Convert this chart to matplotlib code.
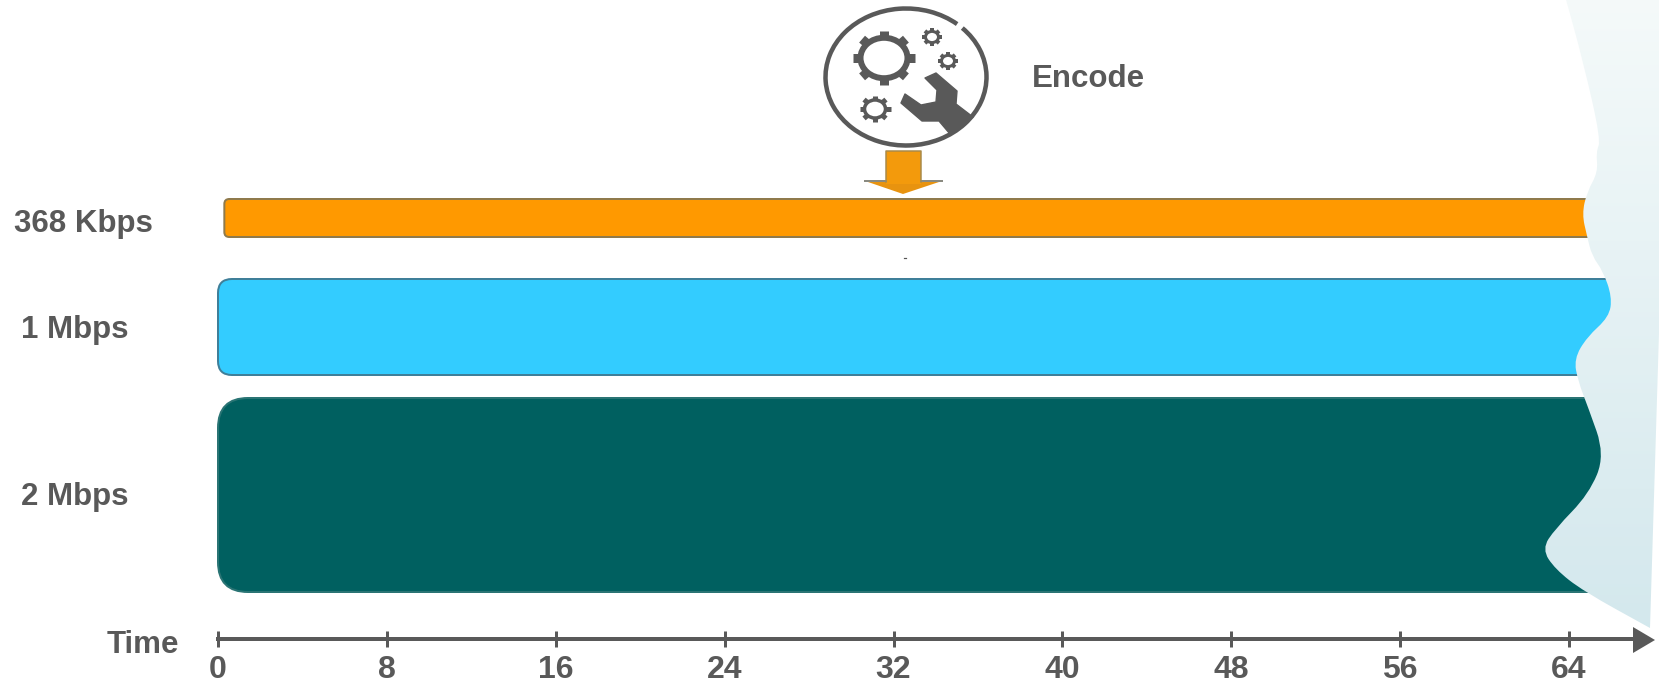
##
## === DEPENDENCIES
##

import matplotlib

matplotlib.use("Agg")
import matplotlib.pyplot as plt
import numpy
from matplotlib.patches import Arc, Ellipse, FancyBboxPatch, PathPatch, Polygon
from matplotlib.path import Path

##
## === DATA
##

BITRATE_LABELS = ["368 Kbps", "1 Mbps", "2 Mbps"]
BAR_COLORS = ["#FF9900", "#33CCFF", "#006060"]
BAR_EDGES = ["#8F7A4C", "#3F7F99", "#2A7474"]
BAR_START = [0.3, 0.0, 0.0]
BAR_END = [66.5, 66.5, 66.5]
BAR_TOP = [199, 279, 398]
BAR_BOTTOM = [237, 375, 592]
BAR_ROUNDING = [5, 14, 30]
LABEL_LEFT = [14, 21, 21]
LABEL_Y = [224, 330, 497]
TIME_TICKS = [0, 8, 16, 24, 32, 40, 48, 56, 64]

## outline of the pale torn-paper strip along the right edge
TORN_EDGE = [
    (1565, -4), (1583, 61), (1601, 140), (1596, 152), (1598, 172), (1587, 192),
    (1582, 214), (1587, 236), (1592, 256), (1603, 271), (1612, 297), (1609, 317),
    (1587, 337), (1574, 359), (1578, 381), (1588, 407), (1605, 455), (1589, 494),
    (1555, 529), (1542, 549), (1555, 569), (1583, 591), (1650, 628),
]
WRENCH = [
    (925, 78), (936, 73), (957, 91), (956, 104), (973, 117), (950, 134), (939, 121),
    (922, 121), (901, 103), (905, 94), (921, 105), (936, 102), (937, 90),
]
## centre x, centre y, ring radius, tooth tip radius, ring width, tooth width
GEARS = [
    (884, 58, 23.5, 31, 6, 9),
    (932, 37, 6.5, 10, 3, 4),
    (948, 61, 6.5, 10, 3, 4),
    (875, 109, 10.5, 15.5, 3.5, 5),
]

##
## === CONSTANTS
##

GREY = "#595959"
FONT = ["Liberation Sans", "DejaVu Sans"]
FIG_W, FIG_H = 1659, 686
TIME_ZERO_PX = 218
PX_PER_TIME = 21.11
ICON_SQUASH = 0.86


def px(value: float) -> float:
    return value * 72 / 100


def smooth_path(points, closing):
    ## quadratic segments through the midpoints keep the edge wavy without corners
    points = numpy.array(points, dtype=float)
    vertices = [points[0], (points[0] + points[1]) / 2]
    codes = [Path.MOVETO, Path.LINETO]
    for i in range(1, len(points) - 1):
        vertices += [points[i], (points[i] + points[i + 1]) / 2]
        codes += [Path.CURVE3, Path.CURVE3]
    vertices.append(points[-1])
    codes.append(Path.LINETO)
    for point in closing:
        vertices.append(numpy.array(point, dtype=float))
        codes.append(Path.LINETO)
    vertices.append(points[0])
    codes.append(Path.CLOSEPOLY)
    return Path(vertices, codes)


def draw_gear(deco, cx, cy, ring_r, tooth_r, ring_px, tooth_px):
    deco.add_patch(
        Ellipse((cx, cy), ring_r * 2, ring_r * 2 * ICON_SQUASH, fill=False, ec=GREY, lw=px(ring_px)),
    )
    for angle in numpy.radians(numpy.arange(0, 360, 45)):
        deco.plot(
            [cx + ring_r * numpy.cos(angle), cx + tooth_r * numpy.cos(angle)],
            [cy + ring_r * ICON_SQUASH * numpy.sin(angle), cy + tooth_r * ICON_SQUASH * numpy.sin(angle)],
            color=GREY,
            lw=px(tooth_px),
            solid_capstyle="butt",
        )


def draw_icon(deco):
    ## y axis is inverted, so the gap at the upper right sits near -45 degrees
    deco.add_patch(Arc((906, 77), 161, 137, theta1=-41, theta2=314, ec=GREY, lw=px(4.5)))
    for cx, cy, ring_r, tooth_r, ring_px, tooth_px in GEARS:
        draw_gear(deco, cx, cy, ring_r, tooth_r, ring_px, tooth_px)
    deco.add_patch(Polygon(WRENCH, closed=True, fc=GREY, ec=GREY, lw=1, joinstyle="round"))
    ## arrow pointing at the lowest bitrate bar
    deco.plot([865, 886], [181, 181], color="#8A8A80", lw=px(2))
    deco.plot([921, 942], [181, 181], color="#8A8A80", lw=px(2))
    deco.add_patch(Polygon([(868, 182), (939, 182), (903, 194)], closed=True, fc="#E8930F", ec="none"))
    deco.add_patch(Polygon([(886, 151), (921, 151), (921, 184), (886, 184)], closed=True, fc="#F39A0C", ec="none"))
    deco.plot([886, 886, 921, 921], [182, 151, 151, 182], color="#A88A4A", lw=px(1.5))
    deco.plot([904, 906], [257.5, 257.5], color="#555555", lw=px(1.2))


def main() -> None:
    fig = plt.figure(figsize=(FIG_W / 100, FIG_H / 100), dpi=100, facecolor="white")
    ax = fig.add_axes((0, 0, 1, 1), facecolor="none")
    ax.set_xlim(-TIME_ZERO_PX / PX_PER_TIME, (FIG_W - TIME_ZERO_PX) / PX_PER_TIME)
    ax.set_ylim(FIG_H, 0)

    for i, label in enumerate(BITRATE_LABELS):
        ax.add_patch(
            FancyBboxPatch(
                (BAR_START[i], BAR_TOP[i]),
                BAR_END[i] - BAR_START[i],
                BAR_BOTTOM[i] - BAR_TOP[i],
                boxstyle=f"round,pad=0,rounding_size={BAR_ROUNDING[i] / PX_PER_TIME}",
                mutation_aspect=PX_PER_TIME,
                fc=BAR_COLORS[i],
                ec=BAR_EDGES[i],
                lw=px(2),
            ),
        )
        ax.text(
            (LABEL_LEFT[i] - TIME_ZERO_PX) / PX_PER_TIME,
            LABEL_Y[i],
            label,
            family=FONT,
            weight="bold",
            fontsize=22.5,
            color=GREY,
            ha="left",
            va="center",
        )

    ## the time axis sits on the bottom spine, moved up to its row
    for side in ["top", "left", "right"]:
        ax.spines[side].set_visible(False)
    ax.spines["bottom"].set_position(("data", 639))
    ax.spines["bottom"].set_bounds(0, (1640 - TIME_ZERO_PX) / PX_PER_TIME)
    ax.spines["bottom"].set_color(GREY)
    ax.spines["bottom"].set_linewidth(px(4))
    ax.set_yticks([])
    ax.set_xticks(TIME_TICKS)
    ax.set_xticklabels([str(t) for t in TIME_TICKS], family=FONT, weight="bold", fontsize=23, color=GREY)
    ax.tick_params(axis="x", direction="inout", length=px(16), width=px(3), color=GREY, pad=px(8))
    ax.text(
        (107 - TIME_ZERO_PX) / PX_PER_TIME,
        645,
        "Time",
        family=FONT,
        weight="bold",
        fontsize=22.5,
        color=GREY,
        ha="left",
        va="center",
    )

    ## decoration layer measured in pixels
    deco = fig.add_axes((0, 0, 1, 1), facecolor="none")
    deco.set_xlim(0, FIG_W)
    deco.set_ylim(FIG_H, 0)
    deco.axis("off")

    torn_path = smooth_path(TORN_EDGE, [(1660, 300), (1660, -4)])
    shade = numpy.linspace(0, 1, 256)[:, None]
    top_rgb, bottom_rgb = numpy.array([0.96, 0.98, 0.98]), numpy.array([0.83, 0.91, 0.93])
    gradient = (1 - shade)[:, :, None] * top_rgb + shade[:, :, None] * bottom_rgb
    image = deco.imshow(gradient, extent=(1530, 1660, 630, -4), aspect="auto", zorder=3)
    image.set_clip_path(PathPatch(torn_path, transform=deco.transData))
    deco.set_xlim(0, FIG_W)
    deco.set_ylim(FIG_H, 0)

    ## axis arrow head stays above the strip
    deco.add_patch(Polygon([(1633, 627), (1655, 640), (1633, 653)], closed=True, fc=GREY, ec="none", zorder=4))

    draw_icon(deco)
    deco.text(1032, 79, "Encode", family=FONT, weight="bold", fontsize=22.5, color=GREY, ha="left", va="center")

    fig.savefig("out.png", dpi=100)


if __name__ == "__main__":
    main()
